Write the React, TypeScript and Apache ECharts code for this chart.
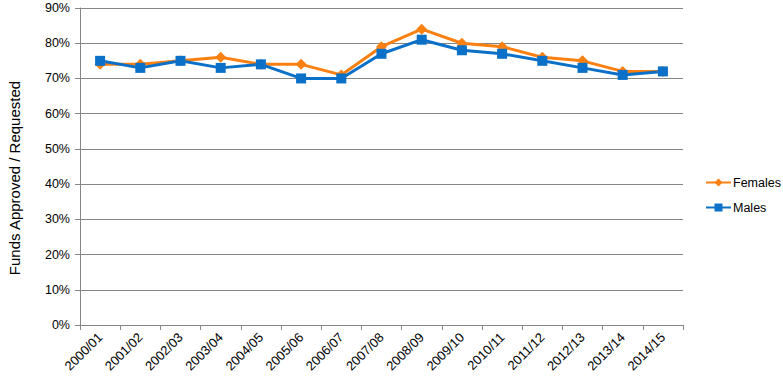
import React, { useEffect, useRef } from "react";
import * as echarts from "echarts";

const categories = ["2000/01","2001/02","2002/03","2003/04","2004/05","2005/06","2006/07","2007/08","2008/09","2009/10","2010/11","2011/12","2012/13","2013/14","2014/15"];
const females = [74, 74, 75, 76, 74, 74, 71, 79, 84, 80, 79, 76, 75, 72, 72];
const males = [75, 73, 75, 73, 74, 70, 70, 77, 81, 78, 77, 75, 73, 71, 72];
const yTicks = { min: 0, max: 90, interval: 10 };
const yTitle = "Funds Approved / Requested";

const FONT = "'Liberation Sans', 'Open Sans', sans-serif";

export default function App() {
  const ref = useRef<HTMLDivElement>(null);
  useEffect(() => {
    if (!ref.current) return;
    const chart = echarts.init(ref.current, null, { renderer: "svg" });
    chart.setOption({
      animation: false,
      textStyle: { fontFamily: FONT },
      grid: { left: 80, right: 100, top: 8, bottom: 59, containLabel: false },
      legend: {
        orient: "vertical",
        left: 700,
        top: 171,
        itemGap: 12,
        itemWidth: 25,
        itemHeight: 10,
        textStyle: { fontSize: 12.5, color: "#000", fontFamily: FONT, padding: [0, 0, 0, -3] },
        data: ["Females", "Males"],
      },
      graphic: [
        {
          type: "text",
          x: 14,
          y: 178,
          rotation: Math.PI / 2,
          style: {
            text: yTitle,
            fontSize: 15,
            fontFamily: FONT,
            fill: "#000",
            textAlign: "center",
            textVerticalAlign: "middle",
          },
        },
      ],
      xAxis: {
        type: "category",
        data: categories,
        boundaryGap: true,
        axisLine: { lineStyle: { color: "#868686", width: 1 } },
        axisTick: { show: true, alignWithLabel: false, length: 5, lineStyle: { color: "#868686" } },
        axisLabel: { rotate: 45, fontSize: 13, color: "#000", fontFamily: FONT, margin: 10, interval: 0 },
      },
      yAxis: {
        type: "value",
        min: yTicks.min,
        max: yTicks.max,
        interval: yTicks.interval,
        axisLine: { show: true, lineStyle: { color: "#868686", width: 1 } },
        axisTick: { show: true, length: 5, lineStyle: { color: "#868686" } },
        axisLabel: { formatter: "{value}%", fontSize: 12.5, color: "#000", fontFamily: FONT, margin: 10 },
        splitLine: { show: true, lineStyle: { color: "#868686", width: 1 } },
      },
      series: [
        {
          name: "Females",
          type: "line",
          data: females,
          symbol: "diamond",
          symbolSize: 11,
          lineStyle: { color: "#F98011", width: 3 },
          itemStyle: { color: "#F98011" },
        },
        {
          name: "Males",
          type: "line",
          data: males,
          symbol: "rect",
          symbolSize: 10,
          lineStyle: { color: "#0A70C8", width: 3 },
          itemStyle: { color: "#0A70C8" },
        },
      ],
    });
    return () => chart.dispose();
  }, []);
  return <div ref={ref} style={{ width: 783, height: 384, position: "absolute", left: 0, top: 0 }} />;
}
